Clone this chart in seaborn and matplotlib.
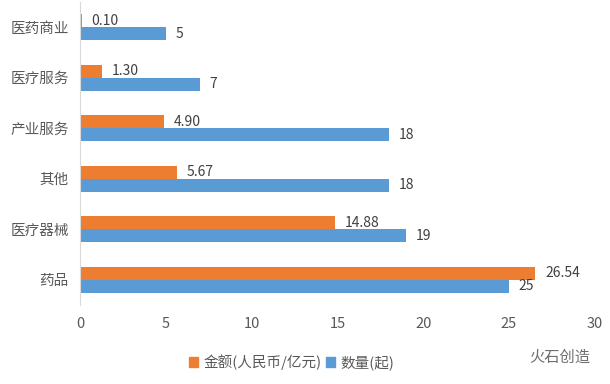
import matplotlib
matplotlib.use('Agg')
import matplotlib.pyplot as plt
import pandas as pd
import seaborn as sns

categories = ["医药商业", "医疗服务", "产业服务", "其他", "医疗器械", "药品"]
amount = [0.10, 1.30, 4.90, 5.67, 14.88, 26.54]
count = [5, 7, 18, 18, 19, 25]
series_names = ["金额(人民币/亿元)", "数量(起)"]
colors = ["#ED7D31", "#5B9BD5"]
x_ticks = [0, 5, 10, 15, 20, 25, 30]

df = pd.DataFrame({
    "category": categories * 2,
    "value": amount + count,
    "series": [series_names[0]] * len(categories) + [series_names[1]] * len(categories),
})

sns.set_theme(style="white")
plt.rcParams['font.family'] = ['Noto Sans CJK SC', 'DejaVu Sans']

fig = plt.figure(figsize=(6.1, 3.84), dpi=100)
ax = fig.add_axes([0.131, 0.206, 0.844, 0.789])

sns.barplot(data=df, y="category", x="value", hue="series", order=categories,
            hue_order=series_names, palette=colors, width=0.52, orient="h",
            saturation=1, linewidth=0, ax=ax, legend=False)

# value labels
for cont, fmt in zip(ax.containers, ["{:.2f}", "{:.0f}"]):
    ax.bar_label(cont, labels=[fmt.format(v) for v in cont.datavalues],
                 padding=7, fontsize=10, color="#404040")

ax.set_xlim(0, 30)
ax.set_ylim(len(categories) - 0.5, -0.5)
ax.set_xticks(x_ticks)
ax.set_xlabel("")
ax.set_ylabel("")
ax.tick_params(axis="both", length=0, colors="#595959", labelsize=10.5)
ax.tick_params(axis="y", pad=8)
ax.tick_params(axis="x", pad=9)
for side in ["top", "right", "bottom"]:
    ax.spines[side].set_visible(False)
ax.spines["left"].set_color("#D9D9D9")
ax.spines["left"].set_linewidth(0.8)

handles = [plt.Rectangle((0, 0), 1, 1, color=c) for c in colors]
fig.legend(handles, series_names, loc="center", bbox_to_anchor=(0.478, 0.057),
           ncol=2, frameon=False, handlelength=0.6, handleheight=0.6,
           handletextpad=0.4, columnspacing=0.3, fontsize=10.5, labelcolor="#595959")

fig.text(0.918, 0.07, "火石创造", fontsize=11, color="#6E6E6E", ha="center", va="center")

fig.savefig("out.png", dpi=100)
